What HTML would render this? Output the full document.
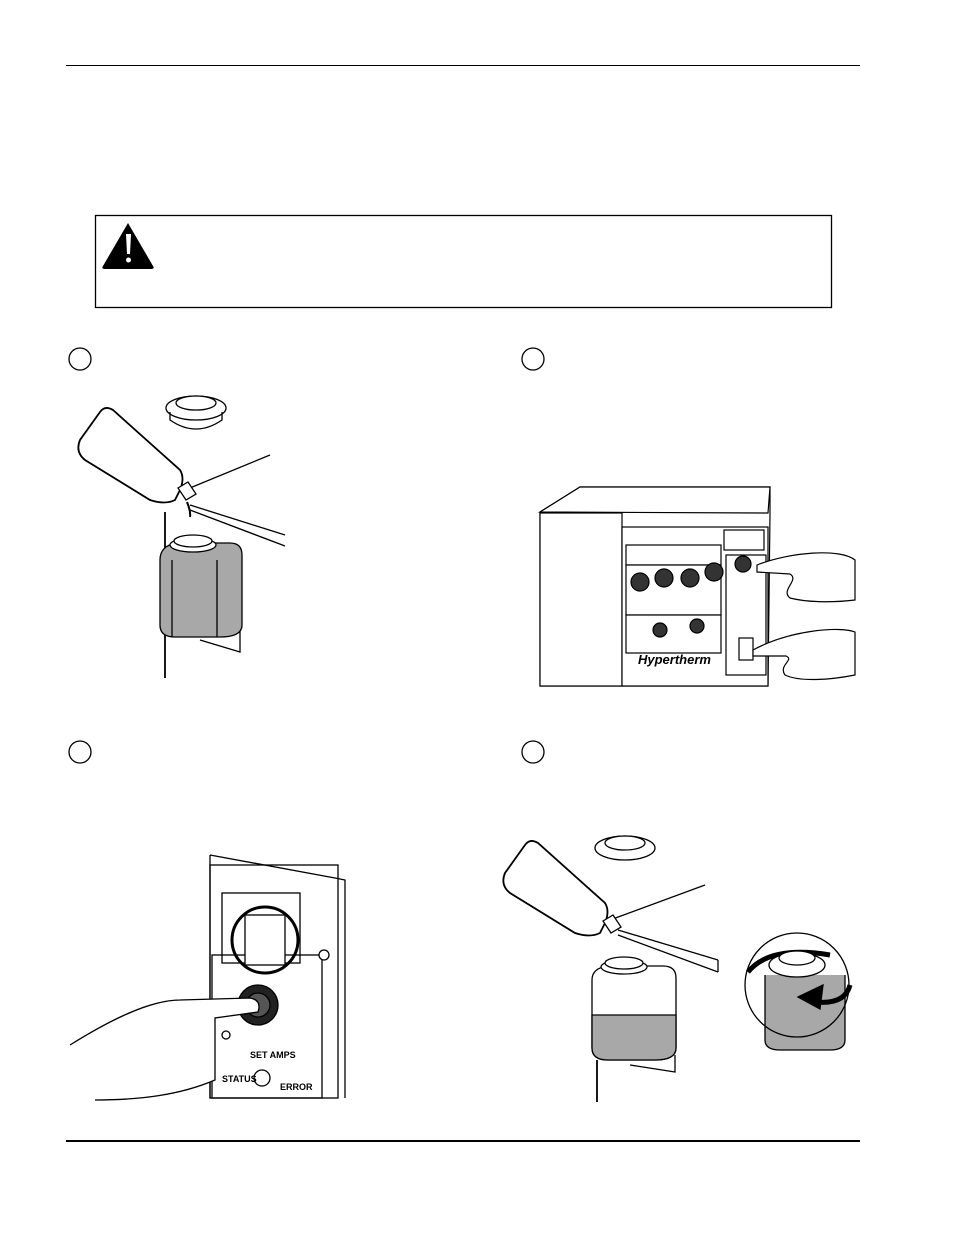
<!DOCTYPE html>
<html><head><meta charset="utf-8"><style>
html,body{margin:0;padding:0;background:#fff}
svg{display:block}
text{font-family:"Liberation Sans",sans-serif;font-weight:bold}
</style></head><body>
<svg width="954" height="1235" viewBox="0 0 954 1235" xmlns="http://www.w3.org/2000/svg">
<g fill="none" stroke="#000">
<line x1="66" y1="65.5" x2="860" y2="65.5" stroke-width="1"/>
<line x1="66" y1="1141" x2="860" y2="1141" stroke-width="2"/>
<rect x="95.5" y="215.5" width="736" height="92" stroke-width="1.3"/>
<circle cx="80" cy="359" r="11" stroke-width="1.3"/>
<circle cx="533" cy="359" r="11" stroke-width="1.3"/>
<circle cx="80" cy="752" r="11" stroke-width="1.3"/>
<circle cx="533" cy="752" r="11" stroke-width="1.3"/>
</g>
<path d="M128 223 L153 266 Q155 269 151 269 L105 269 Q101 269 103 266 Z" fill="#000"/>
<path d="M126 234 h5 l-1 20 h-3 Z" fill="#fff"/><circle cx="128.5" cy="260" r="2.5" fill="#fff"/>

<!-- Panel 1 -->
<g stroke="#000" stroke-width="1.3" fill="none">
<line x1="185" y1="490" x2="270" y2="455"/>
<line x1="190" y1="505" x2="285" y2="535"/>
<line x1="190" y1="510" x2="285" y2="546"/>
<line x1="165" y1="512" x2="165" y2="678" stroke-width="1.8"/>
<path d="M200 640 L240 652 L240 630"/>
<path d="M160 560 Q160 545 178 543 L230 543 Q242 543 242 555 L242 625 Q242 637 220 637 L175 637 Q160 637 160 625 Z" fill="#a8a8a8"/>
<line x1="172" y1="560" x2="172" y2="637"/><line x1="217" y1="560" x2="217" y2="637"/>
<ellipse cx="193" cy="545" rx="23" ry="7" fill="#fff"/>
<ellipse cx="193" cy="541" rx="19" ry="6" fill="#fff"/>
<ellipse cx="196" cy="408" rx="30" ry="12" fill="#fff"/>
<ellipse cx="196" cy="403" rx="20" ry="7" fill="#fff"/>
<path d="M170 412 L170 420 Q196 438 222 420 L222 412"/>
<path d="M100 412 Q105 405 113 410 L180 470 Q185 478 180 490 L175 500 Q165 505 150 500 L85 460 Q75 452 80 440 Z" fill="#fff" stroke-width="1.8"/>
<path d="M178 488 l10 -6 l8 12 l-10 6 Z" fill="#fff"/>
<path d="M187 502 q4 10 3 15" stroke-width="2"/>
</g>

<!-- Panel 2 -->
<g stroke="#000" stroke-width="1.2" fill="#fff">
<path d="M540 512 L580 487 L770 487 L770 513 L768 686 L540 686 Z" fill="#fff"/>
<path d="M540 512 L580 487 L770 487 L768 513 Z"/>
<rect x="540" y="513" width="82" height="173" fill="#fff"/>
<rect x="622" y="527" width="146" height="159"/>
<rect x="626" y="545" width="95" height="20"/>
<rect x="724" y="530" width="40" height="20"/>
<rect x="726" y="555" width="40" height="120"/>
<rect x="626" y="565" width="95" height="50"/>
<rect x="626" y="615" width="95" height="38"/>
<circle cx="640" cy="582" r="9" fill="#333"/><circle cx="664" cy="578" r="9" fill="#333"/>
<circle cx="690" cy="578" r="9" fill="#333"/><circle cx="714" cy="572" r="9" fill="#333"/>
<circle cx="660" cy="630" r="7" fill="#333"/><circle cx="697" cy="626" r="7" fill="#333"/>
<circle cx="743" cy="564" r="8" fill="#333"/>
<rect x="739" y="638" width="14" height="22" fill="#fff"/>
<path d="M757 565 C790 552 840 548 855 560 L855 600 C830 603 805 602 790 598 C780 590 800 580 790 574 L757 572 Z"/>
<path d="M753 650 C790 630 840 626 855 632 L855 675 C830 680 800 682 785 675 C778 665 795 660 786 656 L753 656 Z"/>
</g>
<text x="638" y="664" font-size="13" font-style="italic">Hypertherm</text>

<!-- Panel 3 -->
<g stroke="#000" stroke-width="1.3" fill="#fff">
<path d="M210 855 L335 878 L345 880 L345 1098 M210 855 L210 1098" fill="none"/>
<rect x="210" y="865" width="128" height="233" fill="none"/>
<rect x="222" y="893" width="78" height="70"/>
<rect x="212" y="955" width="110" height="143" fill="none"/>
<rect x="245" y="915" width="40" height="50"/>
<circle cx="265" cy="940" r="33" fill="none" stroke-width="3"/>
<circle cx="324" cy="955" r="5"/>
<circle cx="258" cy="1005" r="20" fill="#222"/>
<circle cx="258" cy="1005" r="12" fill="#555"/>
<circle cx="226" cy="1035" r="4"/>
<circle cx="262" cy="1078" r="8"/>
<path d="M70 1045 C110 1020 150 1000 180 1000 L250 998 Q262 1000 258 1012 L215 1018 L215 1080 C180 1095 140 1100 95 1100"/>
</g>
<text x="250" y="1058" font-size="9">SET AMPS</text>
<text x="222" y="1082" font-size="9">STATUS</text>
<text x="280" y="1090" font-size="9">ERROR</text>

<!-- Panel 4 -->
<g stroke="#000" stroke-width="1.3" fill="none">
<line x1="610" y1="920" x2="705" y2="885"/>
<line x1="618" y1="930" x2="718" y2="960"/>
<line x1="618" y1="935" x2="718" y2="972"/>
<line x1="718" y1="960" x2="718" y2="972"/>
<line x1="597" y1="1060" x2="597" y2="1102" stroke-width="1.8"/>
<path d="M630 1065 L675 1072 L675 1055"/>
<path d="M592 980 Q592 968 608 966 L663 966 Q676 966 676 978 L676 1048 Q676 1060 655 1060 L608 1060 Q592 1060 592 1048 Z" fill="#fff"/>
<path d="M592 1015 L676 1015 L676 1048 Q676 1060 655 1060 L608 1060 Q592 1060 592 1048 Z" fill="#a8a8a8"/>
<ellipse cx="624" cy="967" rx="23" ry="7" fill="#fff"/>
<ellipse cx="624" cy="963" rx="19" ry="6" fill="#fff"/>
<ellipse cx="625" cy="848" rx="30" ry="12" fill="#fff"/>
<ellipse cx="625" cy="843" rx="20" ry="7" fill="#fff"/>
<path d="M525 845 Q530 838 538 843 L605 903 Q610 911 605 923 L600 933 Q590 938 575 933 L510 893 Q500 885 505 873 Z" fill="#fff" stroke-width="1.8"/>
<path d="M603 921 l10 -6 l8 12 l-10 6 Z" fill="#fff"/>
<path d="M765 975 L765 1040 Q765 1050 780 1050 L830 1050 Q845 1050 845 1040 L845 975" fill="#a8a8a8"/>
<circle cx="797" cy="985" r="52" fill="none"/>
<path d="M748 972 Q770 945 830 955" stroke-width="5"/>
<path d="M850 985 Q845 1005 815 1002" stroke-width="5"/>
<path d="M798 997 l25 -12 l-3 24 Z" fill="#000"/>
<ellipse cx="797" cy="965" rx="28" ry="12" fill="#fff"/>
<ellipse cx="797" cy="958" rx="18" ry="7" fill="#fff"/>
</g>
</svg>
</body></html>
